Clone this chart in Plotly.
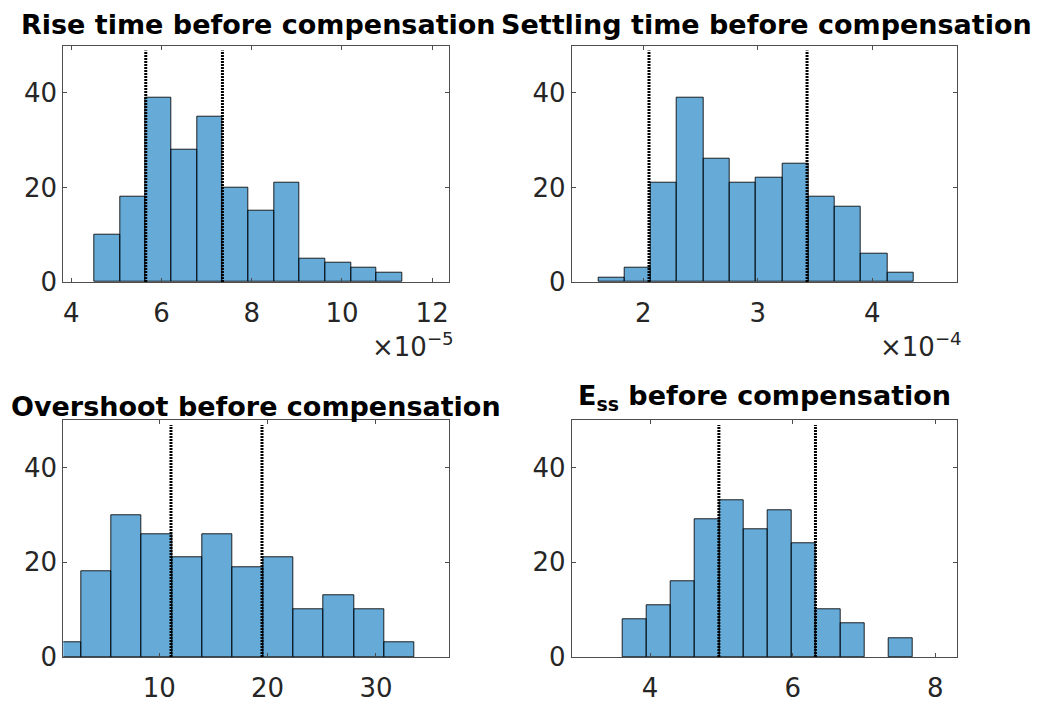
import plotly.graph_objects as go

W, H = 1039, 713

# ---- data ----
rise_edges0 = 4.51          # x10^-5
rise_width = 0.569
rise_counts = [10, 18, 39, 28, 35, 20, 15, 21, 5, 4, 3, 2]
rise_lines = [5.65, 7.35]

settle_edges0 = 1.607       # x10^-4
settle_width = 0.2295
settle_counts = [1, 3, 21, 39, 26, 21, 22, 25, 18, 16, 6, 2]
settle_lines = [2.05, 3.43]

over_edges0 = -0.03
over_width = 2.8
over_counts = [3, 18, 30, 26, 21, 26, 19, 21, 10, 13, 10, 3]
over_lines = [11.08, 19.48]

ess_edges0 = 3.61
ess_width = 0.34
ess_counts = [8, 11, 16, 29, 33, 27, 31, 24, 10, 7, 0, 4]
ess_lines = [4.965, 6.32]

titles = ["Rise time before compensation", "Settling time before compensation",
          "Overshoot before compensation", "E<sub>ss</sub> before compensation"]
x_ranges = [[3.822, 12.38], [1.375, 4.742], [1.14, 36.77], [2.90, 8.31]]
x_ticks = [[4, 6, 8, 10, 12], [2, 3, 4], [10, 20, 30], [4, 6, 8]]
exponents = ["−5", "−4", None, None]
y_ticks = [0, 20, 40]

# ---- layout geometry (pixels) ----
px_boxes = [  # x0, x1, ytop, ybottom
    (63.3, 449.3, 46.7, 288.0),
    (571.7, 957.3, 46.7, 288.0),
    (63.3, 449.3, 429.3, 671.0),
    (571.7, 957.3, 429.3, 671.0),
]
title_pos = [(258, 25), (766, 25), (256, 415), (764, 406)]

datasets = [
    (rise_edges0, rise_width, rise_counts, rise_lines),
    (settle_edges0, settle_width, settle_counts, settle_lines),
    (over_edges0, over_width, over_counts, over_lines),
    (ess_edges0, ess_width, ess_counts, ess_lines),
]

fig = go.Figure()
face = "rgba(0,114,189,0.6)"
tick_font = dict(family="DejaVu Sans", size=26, color="#262626")
annotations = []

for i, ((e0, w, counts, lines), box) in enumerate(zip(datasets, px_boxes)):
    sfx = "" if i == 0 else str(i + 1)
    xa, ya = "x" + sfx, "y" + sfx
    centers = [e0 + w * (k + 0.5) for k in range(len(counts))]
    edge_w = [1 if c > 0 else 0 for c in counts]
    fig.add_trace(go.Bar(x=centers, y=counts, width=[w] * len(counts),
                         marker=dict(color=face, line=dict(color="rgba(0,0,0,0.85)", width=edge_w)),
                         xaxis=xa, yaxis=ya, showlegend=False))
    for v in lines:
        fig.add_trace(go.Scatter(x=[v, v], y=[0, 49], mode="lines",
                                 line=dict(color="black", width=3, dash="2px,1px"),
                                 xaxis=xa, yaxis=ya, showlegend=False))
    x0, x1, yt, yb = box
    axis_common = dict(showline=True, linecolor="#4d4d4d", linewidth=1, mirror="ticks",
                       ticks="inside", ticklen=4, tickcolor="#4d4d4d", showgrid=False,
                       zeroline=False, tickfont=tick_font, fixedrange=True)
    fig.layout["xaxis" + sfx] = dict(domain=[x0 / W, x1 / W], range=x_ranges[i],
                                     tickvals=x_ticks[i], anchor=ya, ticklabelstandoff=8,
                                     **axis_common)
    fig.layout["yaxis" + sfx] = dict(domain=[1 - yb / H, 1 - yt / H], range=[0, 50],
                                     tickvals=y_ticks, anchor=xa, **axis_common)
    # title
    tx, ty = title_pos[i]
    annotations.append(dict(text="<b>" + titles[i] + "</b>", xref="paper", yref="paper",
                            x=tx / W, y=1 - ty / H, xanchor="center", yanchor="middle",
                            showarrow=False, font=dict(family="DejaVu Sans", size=27, color="black")))
    if exponents[i]:
        annotations.append(dict(text="×10<sup>" + exponents[i] + "</sup>", xref="paper", yref="paper",
                                x=(x1 + 7) / W, y=1 - 352 / H, xanchor="right", yanchor="middle",
                                showarrow=False, font=tick_font))

fig.update_layout(width=W, height=H, margin=dict(l=0, r=0, t=0, b=0),
                  paper_bgcolor="white", plot_bgcolor="white", bargap=0,
                  annotations=annotations)
fig.write_html("out.html")
